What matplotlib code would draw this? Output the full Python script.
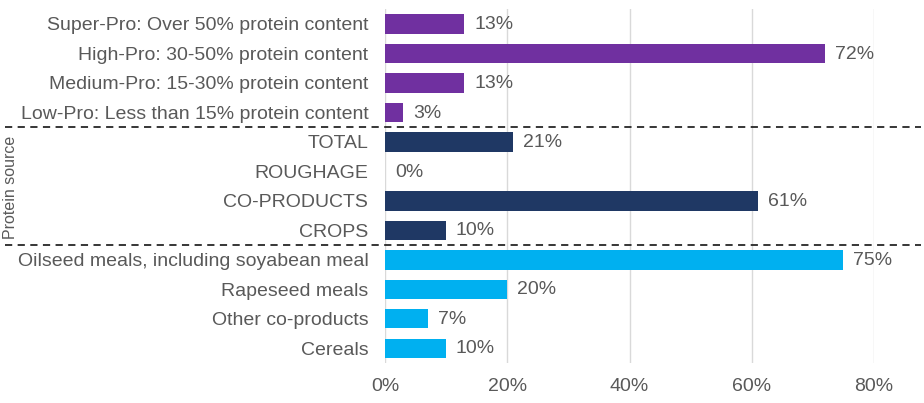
import matplotlib.pyplot as plt
import matplotlib.transforms as mtransforms
from matplotlib.ticker import FuncFormatter

plt.rcParams['font.family'] = ['Liberation Sans', 'DejaVu Sans']

categories = [
    'Super-Pro: Over 50% protein content',
    'High-Pro: 30-50% protein content',
    'Medium-Pro: 15-30% protein content',
    'Low-Pro: Less than 15% protein content',
    'TOTAL',
    'ROUGHAGE',
    'CO-PRODUCTS',
    'CROPS',
    'Oilseed meals, including soyabean meal',
    'Rapeseed meals',
    'Other co-products',
    'Cereals',
]
values = [13, 72, 13, 3, 21, 0, 61, 10, 75, 20, 7, 10]
group_sizes = [4, 4, 4]
group_colors = ['#7030A0', '#1F3864', '#00B0F0']
x_ticks = [0, 20, 40, 60, 80]
side_label = 'Protein source'

text_color = '#595959'

colors = []
for size, color in zip(group_sizes, group_colors):
    colors += [color] * size

fig = plt.figure(figsize=(9.24, 4.03), dpi=100)
ax = fig.add_axes([0.4167, 0.0993, 0.5292, 0.878])

pos = list(range(len(categories)))
ax.barh(pos, values, height=0.66, color=colors, zorder=3)

for y, v in zip(pos, values):
    ax.annotate(f'{v}%', (v, y), xytext=(7, -0.5), textcoords='offset points',
                va='center', ha='left', fontsize=14, color=text_color)

ax.set_xlim(0, 80)
ax.set_ylim(len(categories) - 0.5, -0.5)
ax.set_xticks(x_ticks)
ax.xaxis.set_major_formatter(FuncFormatter(lambda v, _: f'{v:.0f}%'))
ax.set_yticks(pos)
ax.set_yticklabels(categories)
ax.tick_params(axis='both', length=0, labelsize=14, labelcolor=text_color)
ax.tick_params(axis='y', pad=12)
ax.tick_params(axis='x', pad=11)
ax.grid(axis='x', color='#D9D9D9', linewidth=1, zorder=0)
for side in ax.spines.values():
    side.set_visible(False)

# dashed separators between the three groups, spanning the whole figure
trans = mtransforms.blended_transform_factory(fig.transFigure, ax.transData)
edge = 0
for size in group_sizes[:-1]:
    edge += size
    ax.plot([0.005, 0.997], [edge - 0.5, edge - 0.5], transform=trans,
            color='#262626', linestyle=(0, (4, 3)), linewidth=1.3,
            clip_on=False, zorder=4)

mid = group_sizes[0] + (group_sizes[1] - 1) / 2 + 0.05
ax.text(0.011, mid, side_label, transform=trans, rotation=90,
        ha='center', va='center', fontsize=11.5, color=text_color)

fig.savefig('out.png', dpi=100)
